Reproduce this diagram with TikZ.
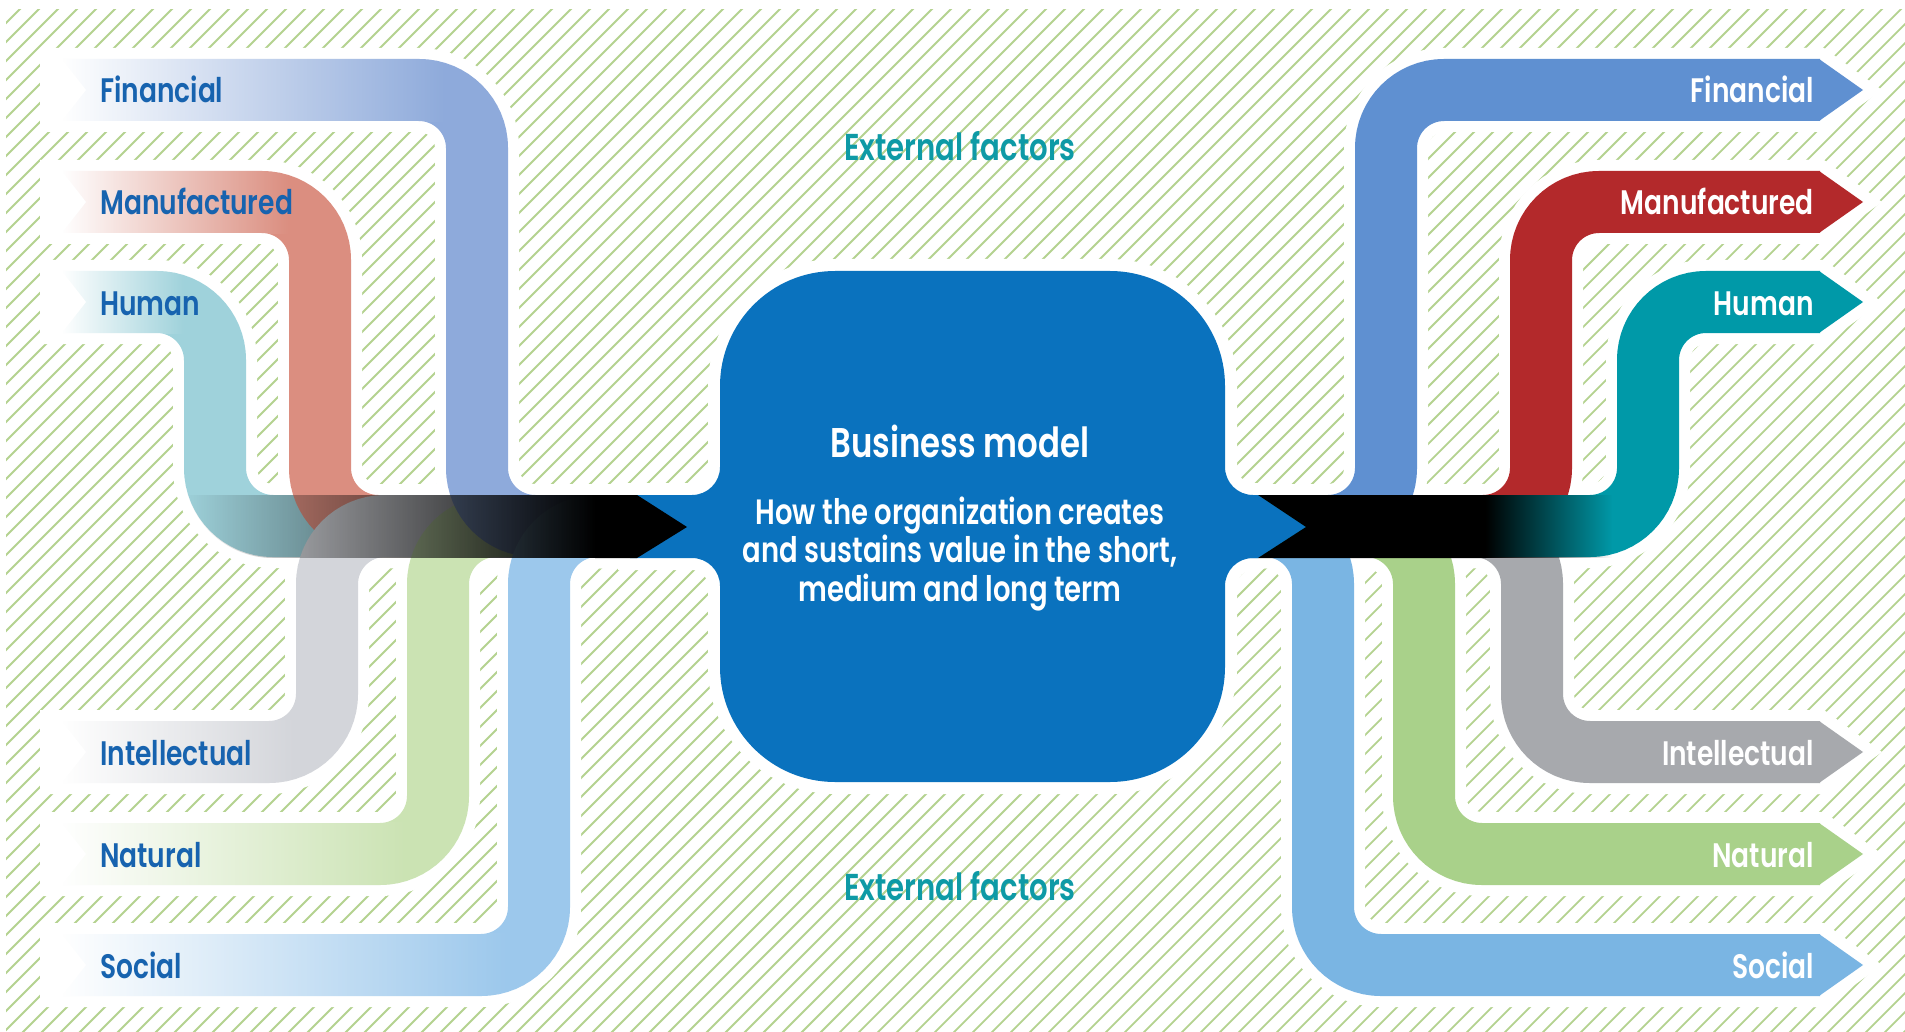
\documentclass[tikz,border=0pt]{standalone}
\usepackage{fontspec}
\setmainfont{Poppins}[UprightFont=* SemiBold, FakeStretch=0.78]
\usetikzlibrary{fadings}
\definecolor{hatchc}{HTML}{B4D290}
\definecolor{finL}{HTML}{8EAADB}
\definecolor{manL}{HTML}{DB8E80}
\definecolor{humL}{HTML}{9FD2DB}
\definecolor{intL}{HTML}{D3D5DA}
\definecolor{natL}{HTML}{CBE3B3}
\definecolor{socL}{HTML}{9CC8EC}
\definecolor{finR}{HTML}{5F90D1}
\definecolor{manR}{HTML}{B3292B}
\definecolor{humR}{HTML}{0099A8}
\definecolor{intR}{HTML}{A7A9AD}
\definecolor{natR}{HTML}{A9D18A}
\definecolor{socR}{HTML}{7AB5E3}
\definecolor{boxblue}{HTML}{0A72BE}
\definecolor{labblue}{HTML}{1763AF}
\definecolor{extteal}{HTML}{0E9AA6}
\tikzfading[name=fadeW, left color=transparent!0, middle color=transparent!45, right color=transparent!100]
\tikzfading[name=fadeIn, left color=transparent!100, right color=transparent!0]
\tikzfading[name=fadeOut, left color=transparent!0, right color=transparent!100]
\begin{document}
\begin{tikzpicture}[x=1pt,y=-1pt,
  hatch/.style={draw=hatchc, line width=1.8},
  halo/.style={draw=white, line width=84, rounded corners=58},
  band/.style={line width=62, rounded corners=58},
  boxhalo/.style={draw=white, line width=24},
  boxfill/.style={fill=boxblue},
  lab/.style={font=\fontsize{34}{40}\selectfont, inner sep=0pt},
  title/.style={font=\fontsize{41.5}{46}\selectfont, inner sep=0pt, text=white},
  body/.style={font=\fontsize{35.2}{40}\selectfont, inner sep=0pt, text=white},
  ext/.style={font=\fontsize{37.4}{42}\selectfont, inner sep=0pt, text=extteal},
]
\useasboundingbox (0,0) rectangle (1905,1032);
\fill[white] (0,0) rectangle (1905,1032);
% hatched background
\begin{scope}
  \clip (6,10) rectangle (1905,1032);
  \foreach \i in {-1030,-1011,...,1900} \draw[hatch] (\i,1040) -- ++(1060,-1060);
\end{scope}
% white halos
\foreach \yy/\xv in {90/477,202/320,302/215,752/327,854/438,965/539}
  \draw[halo] (40,\yy) -- (\xv,\yy) -- (\xv,526) -- (645,526);
\foreach \yy/\xv in {90/1386,202/1541,302/1648,752/1532,854/1424,965/1323}{
  \draw[halo] (1245,526) -- (\xv,526) -- (\xv,\yy) -- (1820,\yy);
  \fill[white] (1800,\yy-42) -- (1824,\yy-42) -- (1882,\yy) -- (1824,\yy+42) -- (1800,\yy+42) -- cycle;
}
\foreach \st in {boxhalo, boxfill}
  \path[\st] (835,271) -- (1110,271)
    .. controls (1173.5,271) and (1225,322.5) .. (1225,386) -- (1225,467)
    .. controls (1225,482.5) and (1237.5,495) .. (1253,495) -- (1258,495) -- (1306,527)
    -- (1258,558) -- (1253,558)
    .. controls (1237.5,558) and (1225,570.5) .. (1225,586) -- (1225,667)
    .. controls (1225,730.5) and (1173.5,782) .. (1110,782) -- (835,782)
    .. controls (771.5,782) and (720,730.5) .. (720,667) -- (720,586)
    .. controls (720,570.5) and (707.5,558) .. (692,558) -- (630,558) -- (630,495) -- (692,495)
    .. controls (707.5,495) and (720,482.5) .. (720,467) -- (720,386)
    .. controls (720,322.5) and (771.5,271) .. (835,271) -- cycle;
% left bands
\foreach \yy/\xv/\c in {302/215/humL, 202/320/manL, 752/327/intL, 854/438/natL, 90/477/finL, 965/539/socL}
  \draw[band, draw=\c] (63,\yy) -- (\xv,\yy) -- (\xv,526) -- (645,526);
\foreach \yy/\xv in {90/477,202/320,302/215,752/327,854/438,965/539}{
  \fill[white, path fading=fadeW] (62,\yy-32) rectangle (\xv-31,\yy+32);
  \fill[white] (61,\yy-32) -- (86,\yy) -- (61,\yy+32) -- cycle;
}
% right bands
\foreach \yy/\xv/\c in {965/1323/socR, 90/1386/finR, 854/1424/natR, 752/1532/intR, 202/1541/manR, 302/1648/humR}{
  \draw[band, draw=\c] (1245,526) -- (\xv,526) -- (\xv,\yy) -- (1820,\yy);
  \fill[\c] (1819,\yy-31) -- (1863,\yy) -- (1819,\yy+31) -- cycle;
}
% re-cover the blue box extension over band ends
\fill[boxblue] (630,495) rectangle (700,558);
\fill[boxblue] (1225,495) -- (1258,495) -- (1306,527) -- (1258,558) -- (1225,558) -- cycle;
% dark merged streams
\begin{scope}
  \clip (170,495) -- (700,495) -- (700,558) -- (273,558)
    .. controls (223.8,558) and (184,518.2) .. (184,469) -- (170,469) -- cycle;
  \fill[black, path fading=fadeIn] (184,495) rectangle (596,558);
\end{scope}
\fill[black] (595,495) -- (637,495) -- (687,527) -- (637,558) -- (595,558) -- cycle;
\fill[black] (1258,495) -- (1486,495) -- (1486,558) -- (1258,558) -- (1306,527) -- cycle;
\fill[black, path fading=fadeOut] (1485,495) rectangle (1612,558);
% labels
\foreach \yy/\nm/\t in {90/lfin/Financial, 202/lman/Manufactured, 302/lhum/Human, 752/lint/Intellectual, 854/lnat/Natural, 965/lsoc/Social}
  \node[lab, text=labblue, anchor=base west] (\nm) at (100,\yy+13) {\t};
\foreach \yy/\nm/\t in {90/rfin/Financial, 202/rman/Manufactured, 302/rhum/Human, 752/rint/Intellectual, 854/rnat/Natural, 965/rsoc/Social}
  \node[lab, text=white, anchor=base east] (\nm) at (1814,\yy+13) {\t};
\node[title, anchor=base] (bm) at (960,457) {Business model};
\node[body, anchor=base] (b1) at (960,524) {How the organization creates};
\node[body, anchor=base] (b2) at (960,562.5) {and sustains value in the short,};
\node[body, anchor=base] (b3) at (960,601) {medium and long term};
\node[ext, anchor=base] (ext1) at (960,161) {External factors};
\node[ext, anchor=base] (ext2) at (960,900) {External factors};
\end{tikzpicture}
\end{document}
